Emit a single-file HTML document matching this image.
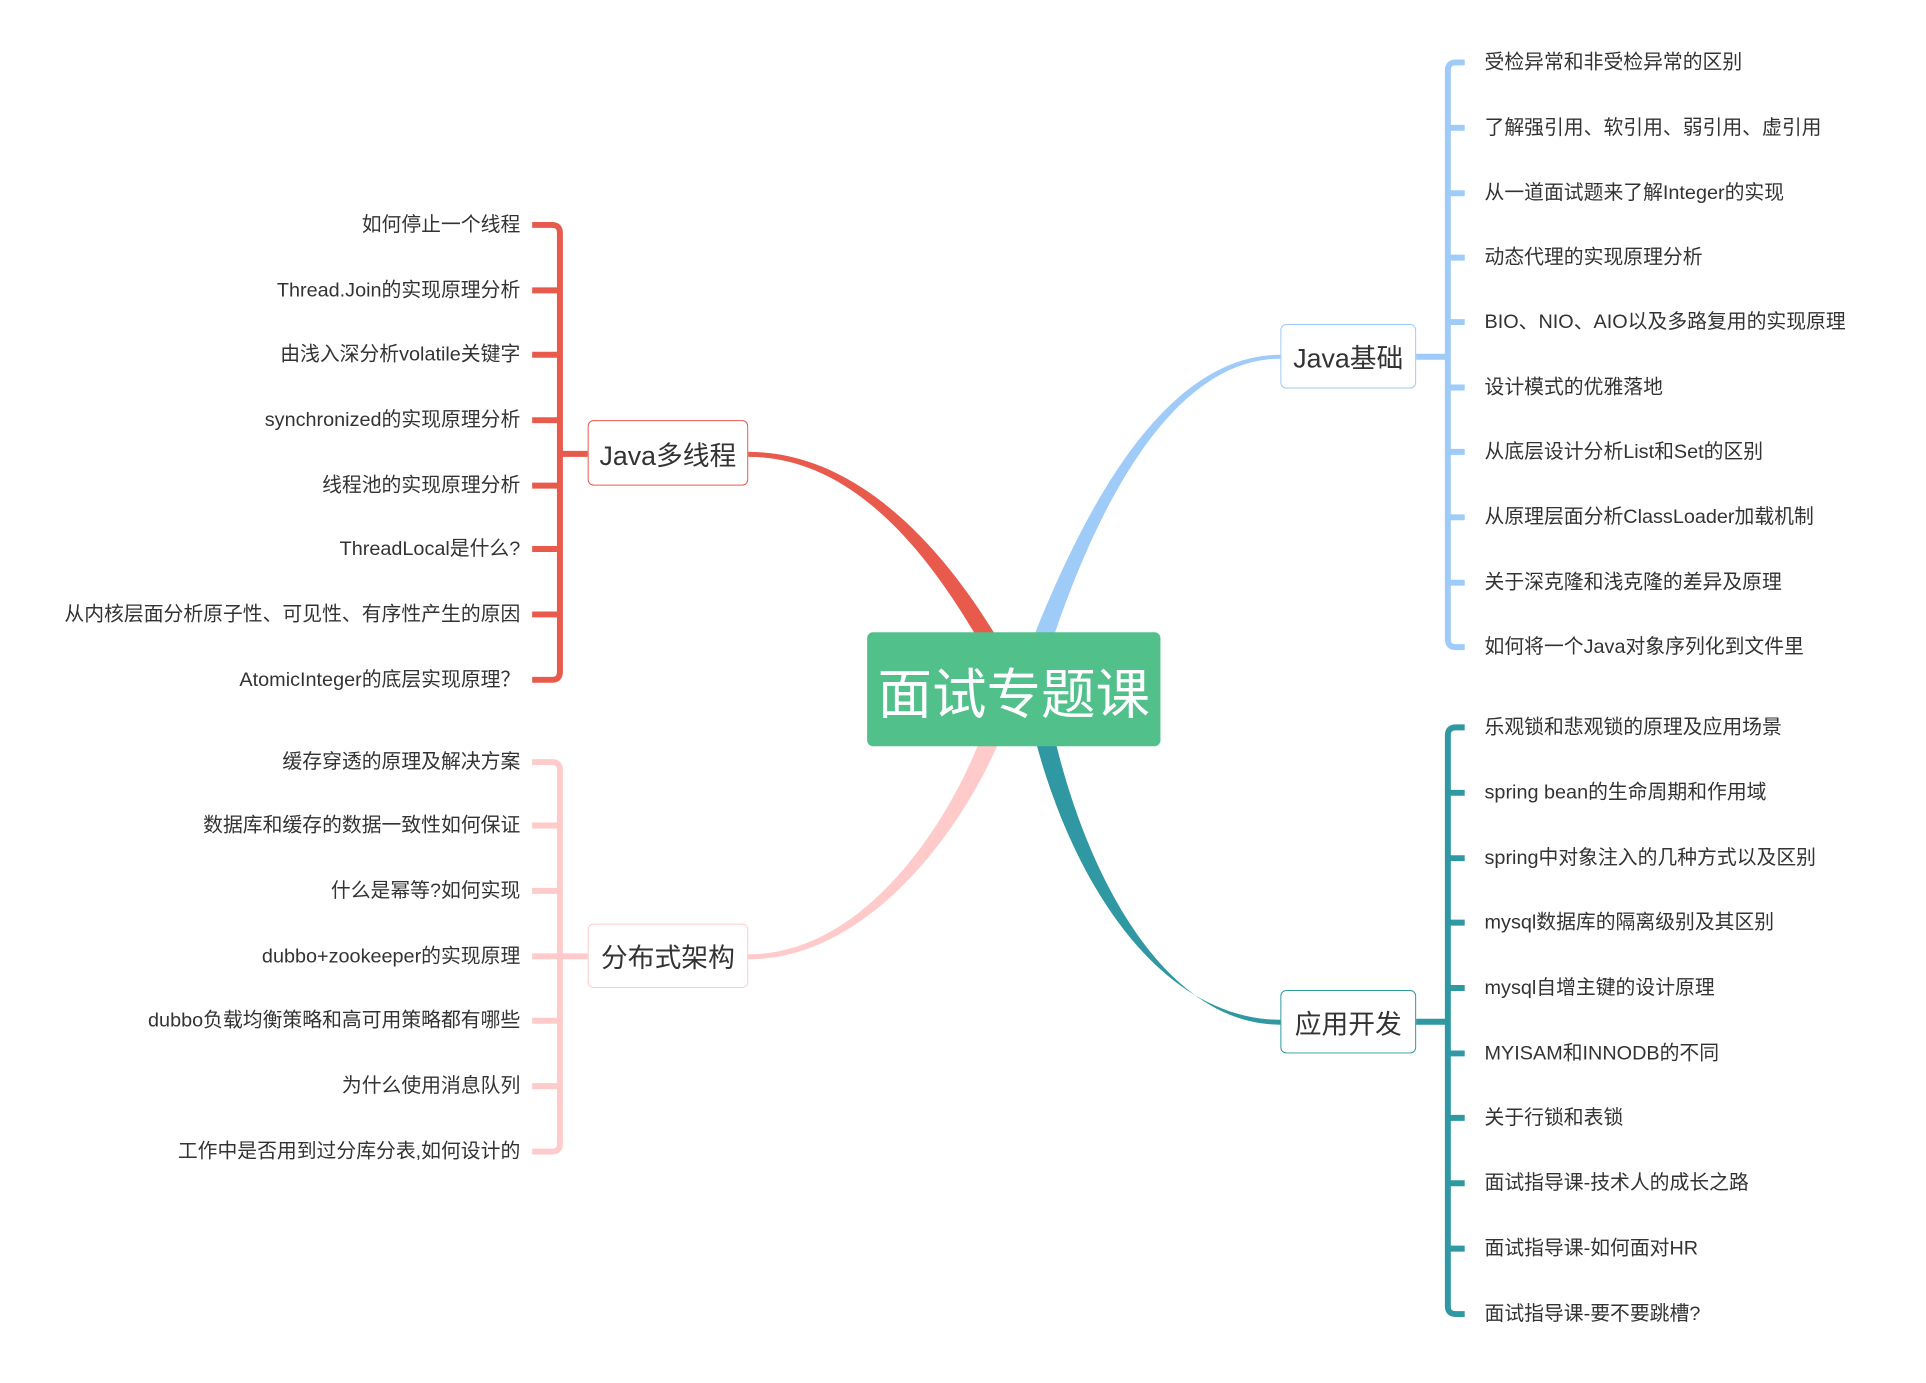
<!DOCTYPE html>
<html><head><meta charset="utf-8"><style>
body{margin:0;width:1926px;height:1383px;background:#fff;position:relative;overflow:hidden;font-family:"Liberation Sans","Noto Sans CJK SC",sans-serif;}
#w{position:absolute;left:0;top:0;width:1926px;height:1383px;transform:scale(0.991);transform-origin:0 0;}
.t{position:absolute;font-size:20px;color:#333;white-space:nowrap;line-height:24px;}
.l{text-align:right;right:1401px;}
.r{left:1498px;}
.n{position:absolute;background:#fff;border:1.5px solid;border-radius:6px;box-sizing:border-box;display:flex;align-items:center;justify-content:center;font-size:27px;color:#333;}
</style></head><body><div id="w">
<svg width="1926" height="1383" style="position:absolute;left:0;top:0">
<g fill="none" stroke-width="6" stroke-linecap="butt">
<path stroke="#e85a4c" d="M537 227 H557 Q565 227 565 235 V678 Q565 686 557 686 H537 M537 293H565 M537 358H565 M537 424H565 M537 490H565 M537 554H565 M537 620H565 M565 458H593"/>
<path stroke="#ffcaca" d="M537 769 H557 Q565 769 565 777 V1154 Q565 1162 557 1162 H537 M537 833H565 M537 899H565 M537 965H565 M537 1030H565 M537 1096H565 M565 965H593"/>
<path stroke="#9ecbf7" d="M1478 63 H1469 Q1461 63 1461 71 V645 Q1461 653 1469 653 H1478 M1461 129H1478 M1461 195H1478 M1461 260H1478 M1461 325H1478 M1461 391H1478 M1461 456H1478 M1461 522H1478 M1461 588H1478 M1429 360H1461"/>
<path stroke="#2f98a3" d="M1478 734 H1469 Q1461 734 1461 742 V1318 Q1461 1326 1469 1326 H1478 M1461 800H1478 M1461 866H1478 M1461 931H1478 M1461 997H1478 M1461 1063H1478 M1461 1128H1478 M1461 1194H1478 M1461 1260H1478 M1429 1031H1461"/>
</g>
<path fill="#e85a4c" d="M755 456 C870 456 955 560 1004 640 L984 640 C940 566 865 461 755 461 Z"/>
<path fill="#9ecbf7" d="M1292 358 C1180 358 1100 500 1044 640 L1064 640 C1110 505 1185 362 1292 362 Z"/>
<path fill="#ffcaca" d="M755 963 C870 963 955 835 990 744 L1010 744 C970 840 875 968 755 968 Z"/>
<path fill="#2f98a3" d="M1292 1029 C1175 1029 1085 900 1044 744 L1064 744 C1100 895 1180 1034 1292 1034 Z"/>
</svg>
<div class="n" style="left:875px;top:638px;width:296px;height:115px;background:#52c08a;border:none;color:#fff;font-size:55px;">面试专题课</div>
<div class="n" style="left:593px;top:424px;width:162px;height:66px;border-color:#e85a4c;">Java多线程</div>
<div class="n" style="left:593px;top:932px;width:162px;height:65px;border-color:#ffcaca;">分布式架构</div>
<div class="n" style="left:1292px;top:327px;width:137px;height:65px;border-color:#9ecbf7;">Java基础</div>
<div class="n" style="left:1292px;top:999px;width:137px;height:64px;border-color:#2f98a3;">应用开发</div>

<div class="t l" style="top:215px">如何停止一个线程</div>
<div class="t l" style="top:281px">Thread.Join的实现原理分析</div>
<div class="t l" style="top:346px">由浅入深分析volatile关键字</div>
<div class="t l" style="top:412px">synchronized的实现原理分析</div>
<div class="t l" style="top:478px">线程池的实现原理分析</div>
<div class="t l" style="top:542px">ThreadLocal是什么?</div>
<div class="t l" style="top:608px">从内核层面分析原子性、可见性、有序性产生的原因</div>
<div class="t l" style="top:674px">AtomicInteger的底层实现原理？</div>

<div class="t l" style="top:757px">缓存穿透的原理及解决方案</div>
<div class="t l" style="top:821px">数据库和缓存的数据一致性如何保证</div>
<div class="t l" style="top:887px">什么是幂等?如何实现</div>
<div class="t l" style="top:953px">dubbo+zookeeper的实现原理</div>
<div class="t l" style="top:1018px">dubbo负载均衡策略和高可用策略都有哪些</div>
<div class="t l" style="top:1084px">为什么使用消息队列</div>
<div class="t l" style="top:1150px">工作中是否用到过分库分表,如何设计的</div>

<div class="t r" style="top:51px">受检异常和非受检异常的区别</div>
<div class="t r" style="top:117px">了解强引用、软引用、弱引用、虚引用</div>
<div class="t r" style="top:183px">从一道面试题来了解Integer的实现</div>
<div class="t r" style="top:248px">动态代理的实现原理分析</div>
<div class="t r" style="top:313px">BIO、NIO、AIO以及多路复用的实现原理</div>
<div class="t r" style="top:379px">设计模式的优雅落地</div>
<div class="t r" style="top:444px">从底层设计分析List和Set的区别</div>
<div class="t r" style="top:510px">从原理层面分析ClassLoader加载机制</div>
<div class="t r" style="top:576px">关于深克隆和浅克隆的差异及原理</div>
<div class="t r" style="top:641px">如何将一个Java对象序列化到文件里</div>

<div class="t r" style="top:722px">乐观锁和悲观锁的原理及应用场景</div>
<div class="t r" style="top:788px">spring bean的生命周期和作用域</div>
<div class="t r" style="top:854px">spring中对象注入的几种方式以及区别</div>
<div class="t r" style="top:919px">mysql数据库的隔离级别及其区别</div>
<div class="t r" style="top:985px">mysql自增主键的设计原理</div>
<div class="t r" style="top:1051px">MYISAM和INNODB的不同</div>
<div class="t r" style="top:1116px">关于行锁和表锁</div>
<div class="t r" style="top:1182px">面试指导课-技术人的成长之路</div>
<div class="t r" style="top:1248px">面试指导课-如何面对HR</div>
<div class="t r" style="top:1314px">面试指导课-要不要跳槽?</div>
</div></body></html>
